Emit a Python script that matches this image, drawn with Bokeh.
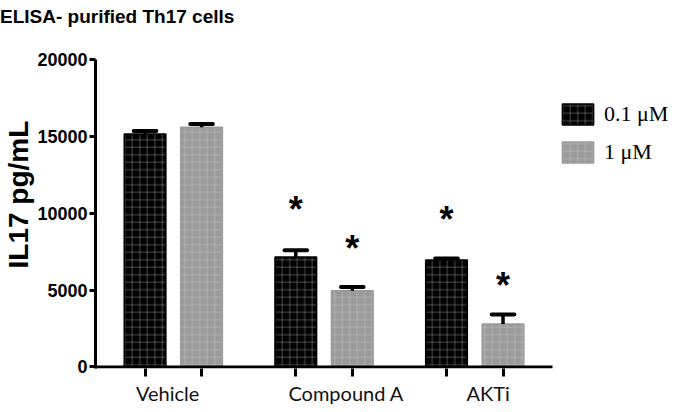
import math
from bokeh.plotting import figure
from bokeh.models import Range1d, FixedTicker, Legend, LegendItem, ColumnDataSource, LinearAxis
from bokeh.core.properties import value
from bokeh.embed import file_html
from bokeh.resources import INLINE

# ---------------- data ----------------
groups = ["Vehicle", "Compound A", "AKTi"]
doses = ["0.1 \u03bcM", "1 \u03bcM"]
mean_low = [15150, 7150, 6950]     # 0.1 uM
err_low = [200, 450, 110]
mean_high = [15600, 4950, 2800]    # 1 uM
err_high = [200, 250, 620]
star_low = [None, 10700, 10050]    # height of significance asterisk
star_high = [None, 8160, 5730]
y_ticks = [0, 5000, 10000, 15000, 20000]

title_text = "IL17 ELISA- purified Th17 cells"
y_label = "IL17 pg/mL"

# ---------------- layout constants ----------------
GROUP_STEP = 2.667
BAR_W = 0.737
CAP_HALF = 0.2
X_START, X_AXIS_END, X_END = -0.877, 7.21, 9.386
label_pos = [0.40, 3.56, 6.07]

p = figure(width=675, height=412, output_backend="svg", toolbar_location=None,
           x_range=Range1d(X_START, X_END), y_range=Range1d(-100, 20000),
           min_border_left=90, min_border_top=59, min_border_right=0,
           min_border_bottom=44)
p.outline_line_color = None
p.grid.visible = False
p.background_fill_color = "white"

def xs_for(di):
    return [gi * GROUP_STEP + di for gi in range(len(groups))]

styles = [
    dict(fill_color="black", line_color="black", hatch_color="#8a8a8a", hatch_alpha=0.8),
    dict(fill_color="#9a9a9a", line_color="#9a9a9a", hatch_color="#bdbdbd", hatch_alpha=0.9),
]
means = [mean_low, mean_high]
errs = [err_low, err_high]
stars = [star_low, star_high]
renderers = []
for di in range(2):
    xs = xs_for(di)
    src = ColumnDataSource(dict(x=xs, top=means[di],
                                etop=[m + e for m, e in zip(means[di], errs[di])],
                                cl=[x - CAP_HALF for x in xs], cr=[x + CAP_HALF for x in xs]))
    r = p.vbar(x="x", top="top", bottom=0, width=BAR_W, source=src, line_width=1.5,
               hatch_pattern="+", hatch_scale=7.5, hatch_weight=0.7, **styles[di])
    renderers.append(r)
    p.segment(x0="x", y0="top", x1="x", y1="etop", source=src, line_color="black",
              line_width=3.5)
    p.segment(x0="cl", y0="etop", x1="cr", y1="etop", source=src, line_color="black",
              line_width=4, line_cap="round")
    sx = [x for x, s in zip(xs, stars[di]) if s is not None]
    sy = [s for s in stars[di] if s is not None]
    p.text(x=sx, y=sy, text=["*"] * len(sx), text_font=value("Liberation Sans"),
           text_font_size="36px", text_font_style="bold", text_align="center",
           text_baseline="alphabetic", y_offset=7, text_color="black")

# x baseline (axis line only up to the last group)
p.segment(x0=[X_START], y0=[0], x1=[X_AXIS_END], y1=[0], line_color="black", line_width=3)

# title drawn as the label of a bare axis above the frame
top_axis = LinearAxis(ticker=FixedTicker(ticks=[]), axis_line_color=None,
                      major_tick_out=0, major_tick_in=0, major_tick_line_color=None,
                      minor_tick_line_color=None, minor_tick_out=0, minor_tick_in=0)
top_axis.axis_label = title_text
try:
    top_axis.axis_label_align = "start"
except Exception:
    top_axis.axis_label = title_text + "\u00a0" * 58
top_axis.axis_label_text_font = "Liberation Sans"
top_axis.axis_label_text_font_style = "bold"
top_axis.axis_label_text_font_size = "19px"
top_axis.axis_label_text_color = "black"
top_axis.axis_label_standoff = 33
p.add_layout(top_axis, "above")

# y axis
p.yaxis.ticker = FixedTicker(ticks=y_ticks)
p.yaxis.minor_tick_line_color = None
p.yaxis.major_tick_in = 0
p.yaxis.major_tick_out = 6
p.yaxis.major_tick_line_width = 3
p.yaxis.axis_line_width = 3
p.yaxis.major_label_text_font = "Liberation Sans"
p.yaxis.major_label_text_font_style = "bold"
p.yaxis.major_label_text_font_size = "18px"
p.yaxis.major_label_text_color = "black"
p.yaxis.major_label_standoff = 2
p.yaxis.axis_label = "\u00a0" * 5 + y_label
p.yaxis.axis_label_text_font = "Liberation Sans"
p.yaxis.axis_label_text_font_style = "bold"
p.yaxis.axis_label_text_font_size = "28px"
p.yaxis.axis_label_text_color = "black"
p.yaxis.axis_label_standoff = 0

# x axis: ticks under bars (minor), labels at group label spots (major)
bar_centers = sorted(xs_for(0) + xs_for(1))
xa = p.below[0]
xa.ticker = FixedTicker(ticks=label_pos, minor_ticks=bar_centers)
xa.axis_line_color = None
xa.major_tick_line_color = None
xa.minor_tick_in = 0
xa.minor_tick_out = 8
xa.minor_tick_line_width = 3
xa.minor_tick_line_color = "black"
xa.major_label_overrides = {lp: g for lp, g in zip(label_pos, groups)}
xa.major_label_text_font = "Lato"
xa.major_label_text_font_size = "20px"
xa.major_label_text_color = "#111111"
xa.major_label_standoff = 4

legend = Legend(items=[LegendItem(label=doses[i], renderers=[renderers[i]]) for i in range(2)],
                location=(463, 203), margin=0, padding=0, spacing=12,
                glyph_width=39, glyph_height=26, label_height=26, label_standoff=7,
                label_text_font="Liberation Serif", label_text_font_size="22px",
                label_text_color="black",
                border_line_color=None, background_fill_alpha=0)
p.add_layout(legend)

open("out.html", "w").write(file_html(p, INLINE))
